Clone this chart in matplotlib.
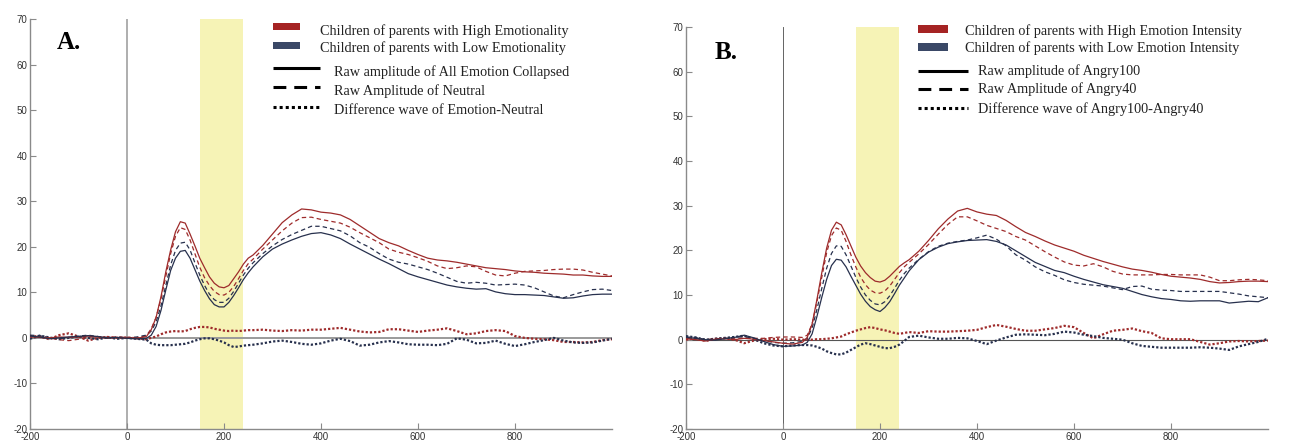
import matplotlib
matplotlib.use("Agg")
import matplotlib.pyplot as plt
from matplotlib.lines import Line2D
from matplotlib.patches import Rectangle

plt.rcParams["axes.unicode_minus"] = False

# ---------------- data ----------------
time_ms = (list(range(-200, 60, 20)) + list(range(50, 260, 10)) + list(range(260, 1001, 20)))

# Panel A
a_hi_solid = [0.3, 0.1, 0.0, 0.2, 0.1, 0.2, 0.4, 0.2, 0.0, 0.1, 0.0, -0.1, 0.3,
              1.8, 4.5, 9.0, 14.5, 19.3, 23.3, 25.5, 25.2, 22.8, 20.2, 17.5, 15.4, 13.4, 12.0, 11.2, 11.0, 11.5, 13.0, 14.5, 16.2, 17.5,
              18.2, 20.3, 22.8, 25.3, 27.0, 28.3, 28.1, 27.6, 27.4, 27.0, 26.0, 24.6, 23.2, 21.8, 20.9, 20.2, 19.2, 18.3, 17.5,
              17.1, 16.9, 16.6, 16.2, 15.8, 15.4, 15.2, 15.0, 14.7, 14.5, 14.4, 14.2, 14.1, 14.0, 13.8, 13.8, 13.6, 13.5, 13.5]
a_hi_dash = [0.2, 0.3, 0.0, -0.4, -0.6, -0.3, 0.2, 0.3, 0.1, 0.2, 0.1, 0.0, 0.5,
             2.0, 4.5, 8.5, 13.5, 18.5, 22.3, 24.2, 23.8, 21.5, 18.5, 15.5, 13.2, 11.5, 10.2, 9.5, 9.4, 10.0, 11.3, 13.0, 14.8, 16.3,
             17.3, 19.5, 21.5, 23.5, 25.2, 26.4, 26.5, 26.0, 25.6, 25.2, 24.3, 23.1, 22.0, 20.9, 19.5, 18.8, 18.3, 17.6, 16.8,
             15.8, 15.2, 15.4, 15.8, 15.6, 14.6, 13.8, 13.6, 14.2, 14.6, 14.7, 14.8, 15.0, 15.1, 15.1, 14.9, 14.4, 14.0, 13.6]
a_lo_solid = [0.4, 0.2, -0.2, 0.0, 0.2, 0.3, 0.5, 0.3, 0.0, 0.1, -0.1, -0.2, -0.1,
              0.6, 2.5, 6.0, 10.5, 14.8, 17.5, 19.0, 19.2, 17.5, 15.0, 12.5, 10.4, 8.6, 7.3, 6.8, 6.8, 7.8, 9.3, 11.0, 12.8, 14.3,
              15.6, 17.8, 19.5, 20.6, 21.5, 22.3, 22.9, 23.1, 22.6, 21.8, 20.6, 19.5, 18.4, 17.3, 16.3, 15.2, 14.1, 13.4, 12.8,
              12.2, 11.6, 11.2, 10.9, 10.7, 10.8, 10.1, 9.7, 9.5, 9.5, 9.4, 9.3, 9.0, 8.7, 8.8, 9.2, 9.5, 9.6, 9.6]
a_lo_dash = [0.6, 0.5, 0.0, -0.2, 0.1, 0.4, 0.6, 0.3, -0.1, 0.2, 0.0, 0.2, 0.6,
             1.5, 3.5, 7.0, 11.5, 16.0, 19.2, 20.8, 21.0, 19.3, 16.5, 13.8, 11.5, 9.6, 8.4, 7.8, 7.8, 8.7, 10.2, 12.0, 13.8, 15.3,
             16.5, 18.5, 20.2, 21.6, 22.7, 23.6, 24.5, 24.5, 24.0, 23.5, 22.4, 20.9, 19.9, 18.5, 17.3, 16.6, 16.2, 15.6, 15.0,
             14.2, 13.3, 12.4, 12.0, 12.2, 12.0, 11.6, 11.7, 11.8, 11.6, 11.0, 10.1, 9.2, 8.8, 9.5, 10.1, 10.6, 10.7, 10.4]
a_hi_dot = [0.4, 0.3, -0.3, 0.6, 1.0, 0.3, -0.6, 0.0, 0.2, 0.0, 0.1, -0.1, -0.3,
            0.0, 0.3, 0.8, 1.2, 1.4, 1.5, 1.4, 1.5, 1.9, 2.2, 2.4, 2.4, 2.3, 2.0, 1.8, 1.6, 1.5, 1.6, 1.5, 1.6, 1.7,
            1.7, 1.8, 1.6, 1.5, 1.7, 1.6, 1.8, 1.8, 2.0, 2.2, 1.8, 1.4, 1.2, 1.3, 1.9, 1.9, 1.6, 1.3, 1.6,
            1.8, 2.1, 1.5, 0.8, 1.0, 1.5, 1.7, 1.5, 0.4, 0.0, -0.2, -0.3, -0.5, -0.9, -0.9, -1.0, -0.9, -0.5, -0.3]
a_lo_dot = [-0.2, 0.5, 0.1, -0.3, 0.0, 0.3, 0.0, -0.3, 0.1, -0.2, 0.0, -0.2, -0.4,
            -1.2, -1.5, -1.6, -1.6, -1.6, -1.5, -1.4, -1.3, -1.0, -0.6, -0.3, -0.1, -0.1, -0.3, -0.6, -1.0, -1.6, -2.0, -1.9, -1.7, -1.6,
            -1.5, -1.2, -0.8, -0.6, -0.9, -1.3, -1.5, -1.2, -0.6, -0.2, -0.7, -1.7, -1.5, -1.0, -0.7, -1.0, -1.4, -1.5, -1.5,
            -1.6, -1.3, -0.1, -0.4, -1.2, -1.1, -0.6, -1.3, -1.8, -1.4, -0.9, -0.5, 0.0, -0.6, -1.0, -1.1, -1.0, -0.6, -0.2]

# Panel B
b_hi_solid = [0.2, 0.0, -0.3, 0.1, 0.2, 0.0, 0.3, 0.1, -0.2, -0.5, -0.8, -1.0, -0.6,
              0.5, 3.5, 9.0, 15.0, 20.5, 24.5, 26.3, 25.7, 23.5, 21.0, 18.5, 16.5, 15.0, 13.9, 13.1, 12.9, 13.3, 14.2, 15.3, 16.4, 17.2,
              17.9, 19.8, 22.2, 24.8, 27.0, 28.8, 29.4, 28.6, 28.1, 27.8, 26.7, 25.3, 24.0, 23.1, 22.1, 21.2, 20.5, 19.8, 18.9,
              18.2, 17.5, 16.9, 16.3, 15.8, 15.5, 15.1, 14.6, 14.2, 14.0, 13.8, 13.5, 13.0, 12.7, 12.8, 13.0, 13.1, 13.1, 13.0]
b_hi_dash = [0.3, 0.2, 0.0, 0.2, 0.3, 0.2, 0.4, 0.3, 0.3, 0.5, 0.6, 0.6, 0.5,
             1.0, 3.5, 8.5, 14.0, 19.5, 23.3, 25.0, 24.5, 22.0, 19.0, 16.3, 14.0, 12.3, 11.1, 10.5, 10.4, 10.9, 12.0, 13.5, 15.0, 16.3,
             17.3, 19.2, 21.3, 23.6, 25.8, 27.5, 27.5, 26.6, 25.6, 24.9, 24.2, 23.1, 22.3, 21.0, 19.7, 18.5, 17.4, 16.7, 16.5,
             17.0, 16.3, 15.3, 14.7, 14.5, 14.5, 14.5, 14.6, 14.6, 14.5, 14.5, 14.5, 14.0, 13.2, 13.2, 13.4, 13.5, 13.4, 13.2]
b_lo_solid = [0.5, 0.3, 0.0, -0.1, 0.2, 0.5, 1.0, 0.4, -0.4, -1.1, -1.5, -1.4, -1.2,
              -0.6, 1.3, 5.2, 9.5, 13.5, 16.6, 18.0, 17.8, 16.3, 14.2, 12.2, 10.2, 8.6, 7.4, 6.7, 6.3, 7.2, 8.5, 10.3, 12.2, 13.8,
              15.4, 17.9, 19.6, 20.7, 21.5, 21.9, 22.2, 22.3, 22.4, 22.0, 21.2, 19.9, 18.6, 17.3, 16.4, 15.5, 15.0, 14.2, 13.5,
              12.9, 12.3, 11.9, 11.5, 10.8, 10.1, 9.6, 9.2, 9.0, 8.7, 8.6, 8.7, 8.7, 8.7, 8.2, 8.4, 8.6, 8.5, 9.4]
b_lo_dash = [0.6, 0.5, 0.0, 0.1, 0.3, 0.5, 0.7, 0.3, -0.2, -0.6, -0.8, -0.7, -0.4,
             0.3, 2.6, 6.8, 11.5, 16.0, 19.3, 21.0, 20.9, 19.0, 16.5, 14.0, 11.8, 10.0, 8.8, 8.0, 7.8, 8.5, 9.8, 11.5, 13.3, 14.8,
             16.0, 18.0, 19.7, 20.9, 21.6, 22.0, 22.3, 22.8, 23.4, 22.5, 21.0, 19.0, 17.8, 16.3, 15.2, 14.4, 13.4, 12.8, 12.4,
             12.2, 12.0, 11.6, 11.2, 11.9, 12.0, 11.3, 11.1, 11.0, 10.8, 10.8, 10.8, 10.8, 10.8, 10.5, 10.2, 9.8, 9.6, 9.4]
b_hi_dot = [0.0, 0.3, -0.3, 0.2, 0.3, 0.0, -0.8, -0.2, 0.1, 0.2, 0.0, 0.1, 0.0,
            0.0, 0.0, 0.1, 0.1, 0.2, 0.3, 0.5, 0.7, 1.2, 1.6, 2.0, 2.3, 2.6, 2.8, 2.6, 2.3, 2.1, 1.8, 1.5, 1.3, 1.5,
            1.7, 1.5, 1.9, 1.8, 1.8, 1.9, 2.0, 2.2, 2.8, 3.3, 2.9, 2.4, 2.0, 2.0, 2.3, 2.6, 3.1, 2.8, 1.5,
            0.3, 1.2, 2.0, 2.2, 2.5, 1.9, 1.5, 0.3, 0.1, 0.1, 0.1, -0.5, -1.1, -0.8, -0.4, -0.3, -0.4, -0.3, -0.2]
b_lo_dot = [0.8, 0.5, 0.0, 0.2, 0.4, 0.6, 0.9, 0.1, -0.8, -1.3, -1.5, -1.3, -1.2,
            -1.2, -1.3, -1.6, -2.0, -2.6, -3.0, -3.3, -3.3, -2.9, -2.3, -1.7, -1.1, -0.8, -1.0, -1.3, -1.6, -1.9, -1.9, -1.6, -1.1, -0.3,
            0.6, 0.9, 0.5, 0.2, 0.2, 0.4, 0.3, -0.3, -1.0, -0.2, 0.5, 1.1, 1.2, 1.1, 1.0, 1.3, 1.8, 1.6, 1.1,
            0.8, 0.4, 0.2, 0.0, -0.8, -1.4, -1.6, -1.8, -1.8, -1.8, -1.8, -1.7, -1.8, -2.0, -2.3, -1.5, -1.0, -0.5, 0.2]

window_ms = (150, 240)
x_ticks = [-200, 0, 200, 400, 600, 800]
y_ticks = [-20, -10, 0, 10, 20, 30, 40, 50, 60, 70]

legend_A = ["Children of parents with High Emotionality",
            "Children of parents with Low Emotionality",
            "Raw amplitude of All Emotion Collapsed",
            "Raw Amplitude of Neutral",
            "Difference wave of Emotion-Neutral"]
legend_B = ["Children of parents with High Emotion Intensity",
            "Children of parents with Low Emotion Intensity",
            "Raw amplitude of Angry100",
            "Raw Amplitude of Angry40",
            "Difference wave of Angry100-Angry40"]

# ---------------- style ----------------
RED = "#9E2B2B"
BLUE = "#27304D"
RED_PATCH = "#A52323"
BLUE_PATCH = "#3A4866"
YELLOW = "#F6F3B6"
W, H = 1295, 445

fig = plt.figure(figsize=(W / 100, H / 100), dpi=100)


def fx(px):
    return px / W


def fy(py):
    return 1 - py / H


def make_axes(left, right, top, bottom, zero_col, zero_lw):
    ax = fig.add_axes([fx(left), fy(bottom), fx(right - left), (bottom - top) / H])
    ax.set_xlim(-200, 1000)
    ax.set_ylim(-20, 70)
    ax.set_xticks(x_ticks)
    ax.set_yticks(y_ticks)
    for s in ["top", "right"]:
        ax.spines[s].set_visible(False)
    for s in ["left", "bottom"]:
        ax.spines[s].set_color("#8a8a8a")
        ax.spines[s].set_linewidth(1.0)
    ax.tick_params(direction="in", length=4, width=0.8, color="#8a8a8a",
                   labelsize=7.0, labelcolor="#333333")
    ax.tick_params(axis="y", pad=2)
    ax.tick_params(axis="x", pad=2.5)
    for lab in ax.get_xticklabels() + ax.get_yticklabels():
        lab.set_fontfamily("Liberation Sans")
    ax.axvspan(window_ms[0], window_ms[1], color=YELLOW, lw=0, zorder=0)
    ax.axhline(0, color=zero_col, lw=zero_lw, zorder=1)
    ax.axvline(0, color=zero_col, lw=zero_lw * 0.8, zorder=1)
    return ax


def draw(ax, hs, hd, ht, ls, ld, lt):
    ax.plot(time_ms, ht, color=RED, lw=1.6, ls=(0, (1, 0.9)), zorder=3)
    ax.plot(time_ms, lt, color=BLUE, lw=1.6, ls=(0, (1, 0.9)), zorder=3)
    ax.plot(time_ms, hd, color=RED, lw=0.9, ls=(0, (3.5, 2.5)), zorder=4)
    ax.plot(time_ms, ld, color=BLUE, lw=0.9, ls=(0, (3.5, 2.5)), zorder=4)
    ax.plot(time_ms, hs, color=RED, lw=0.9, zorder=5)
    ax.plot(time_ms, ls, color=BLUE, lw=0.9, zorder=5)


axA = make_axes(30, 612, 19, 429, "#9a9a9a", 1.4)
draw(axA, a_hi_solid, a_hi_dash, a_hi_dot, a_lo_solid, a_lo_dash, a_lo_dot)
axB = make_axes(686, 1268, 27, 429, "#555555", 0.8)
draw(axB, b_hi_solid, b_hi_dash, b_hi_dot, b_lo_solid, b_lo_dash, b_lo_dot)


def legend(labels, px0, px1, tx_patch, tx_line, patch_y, text_base, line_y):
    for i, col in enumerate([RED_PATCH, BLUE_PATCH]):
        yc = patch_y[i]
        fig.add_artist(Rectangle((fx(px0), fy(yc + 3.8)), fx(px1 - px0 - 20), 7.6 / H,
                                 facecolor=col, edgecolor="none", transform=fig.transFigure))
        fig.text(fx(tx_patch), fy(text_base[i]), labels[i], fontsize=10.3,
                 family="Liberation Serif", color="#222222", va="baseline", ha="left")
    styles = ["-", (0, (4.2, 2.6)), (0, (1, 1))]
    for j in range(3):
        yl = line_y[j]
        fig.add_artist(Line2D([fx(px0), fx(px1)], [fy(yl), fy(yl)], color="black",
                              lw=2.2, ls=styles[j], transform=fig.transFigure,
                              solid_capstyle="butt", dash_capstyle="butt"))
        fig.text(fx(tx_line), fy(text_base[2 + j]), labels[2 + j], fontsize=10.3,
                 family="Liberation Serif", color="#222222", va="baseline", ha="left")


legend(legend_A, 273, 320, 320, 334, [26.5, 45.5], [35, 51.7, 76, 95, 114.3], [68.3, 87.3, 107.3])
legend(legend_B, 918, 968, 965, 978, [29, 47], [35, 51.7, 75, 93.3, 113.3], [70.7, 89.3, 108.3])

fig.text(fx(57), fy(49), "A.", fontsize=18, fontweight="bold", family="Liberation Serif",
         color="black", va="baseline")
fig.text(fx(715), fy(59), "B.", fontsize=18, fontweight="bold", family="Liberation Serif",
         color="black", va="baseline")

fig.savefig("out.png", dpi=100)
